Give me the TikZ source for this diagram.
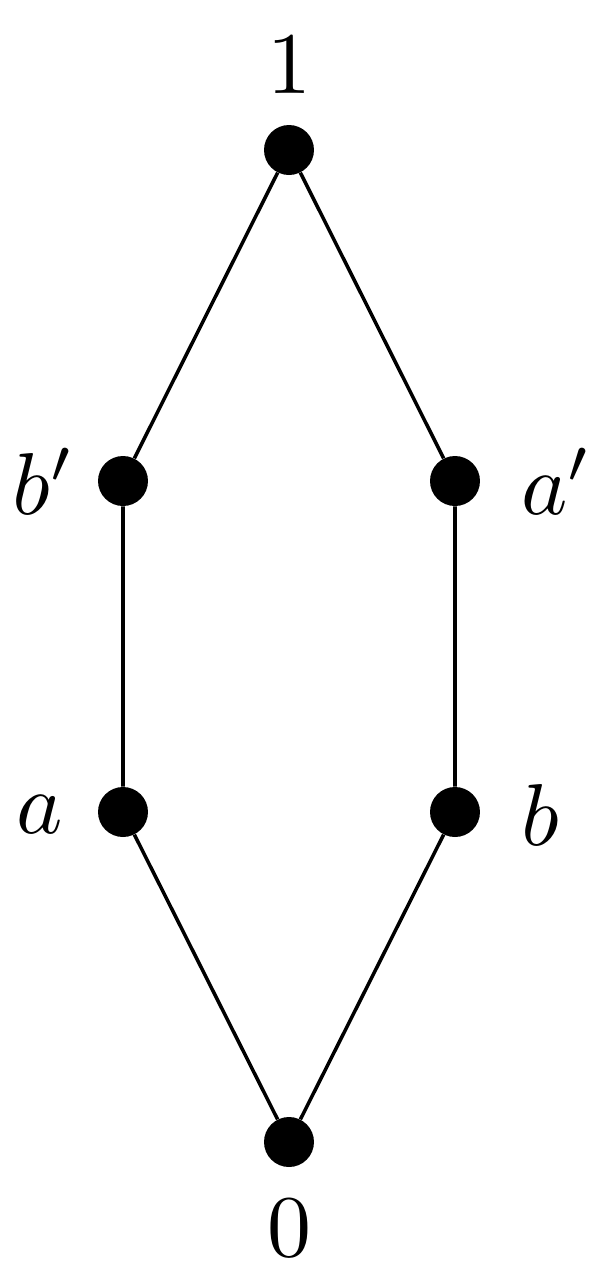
\documentclass[tikz,border=0pt]{standalone}
\begin{document}
\begin{tikzpicture}[x=0.02cm,y=-0.02cm,
  dot/.style={circle,fill=black,inner sep=0pt,minimum size=1.0cm},
  lbl/.style={inner sep=0pt}]
\useasboundingbox (0,0) rectangle (608,1279);
\node[dot] (t) at (289,150) {};
\node[dot] (bp) at (123,481) {};
\node[dot] (ap) at (455,481) {};
\node[dot] (a) at (123,812) {};
\node[dot] (b) at (455,812) {};
\node[dot] (z) at (289,1142) {};
\draw[line width=2pt] (t) -- (bp) -- (a) -- (z) -- (b) -- (ap) -- (t);
\node[lbl] (l1) at (289,65) {\scalebox{5}{$1$}};
\node[lbl] (lbp) at (44,481) {\scalebox{5}{$b'$}};
\node[lbl] (lap) at (557,481) {\scalebox{5}{$a'$}};
\node[lbl] (la) at (40,815) {\scalebox{5}{$a$}};
\node[lbl] (lb) at (540,815) {\scalebox{5}{$b$}};
\node[lbl] (l0) at (289,1228) {\scalebox{5}{$0$}};
\end{tikzpicture}
\end{document}
